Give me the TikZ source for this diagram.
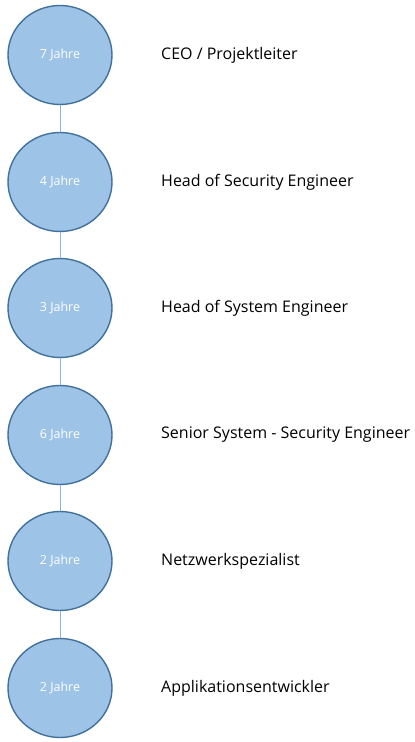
\documentclass[tikz,border=0pt]{standalone}
\usepackage{fontspec}
\usetikzlibrary{shapes.geometric}
\setmainfont{Open Sans}
\definecolor{cfill}{RGB}{157,195,230}
\definecolor{cdraw}{RGB}{65,113,156}
\definecolor{cline}{RGB}{140,180,215}
\begin{document}
\begin{tikzpicture}[x=1pt,y=1pt,
  yr/.style={ellipse,draw=cdraw,line width=1.4pt,fill=cfill,minimum width=104pt,minimum height=99pt,inner sep=0pt,text=white,font=\fontsize{12.5}{15}\selectfont},
  role/.style={anchor=west,inner sep=0pt,font=\fontsize{16}{19}\selectfont},
  conn/.style={draw=cline,line width=1pt}]
\useasboundingbox (0,0) rectangle (415,742);
\fill[white] (0,0) rectangle (415,742);
\foreach \i/\y/\yr/\r in {1/55/7/{CEO / Projektleiter},2/182/4/{Head of Security Engineer},3/308/3/{Head of System Engineer},4/435/6/{Senior System - Security Engineer},5/561/2/{Netzwerkspezialist},6/688/2/{Applikationsentwickler}}{
  \node[yr] (c\i) at (60,742-\y) {\yr{} Jahre};
  \node[role] (t\i) at (161,742-\y) {\r};
}
\foreach \a/\b in {1/2,2/3,3/4,4/5,5/6}{
  \draw[conn] (c\a) -- (c\b);
}
\end{tikzpicture}
\end{document}
